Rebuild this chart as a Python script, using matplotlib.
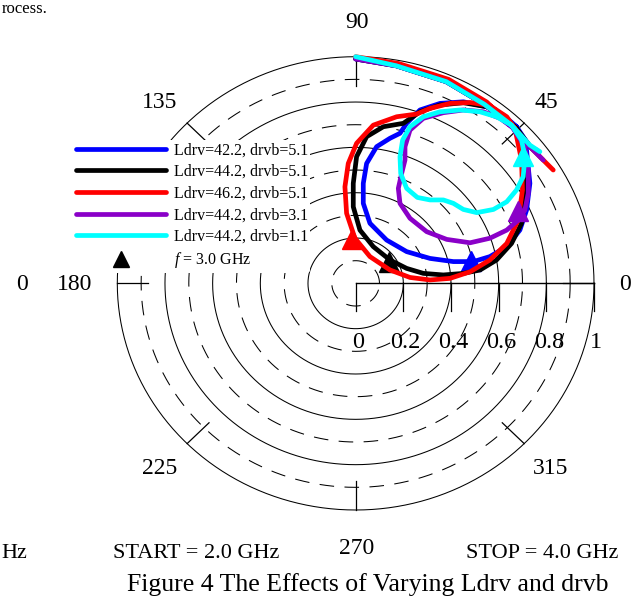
import numpy as np
import matplotlib.pyplot as plt
from matplotlib.lines import Line2D

plt.rcParams["font.family"] = ["Liberation Serif", "DejaVu Serif"]
plt.rcParams["mathtext.fontset"] = "custom"
plt.rcParams["mathtext.it"] = "Liberation Serif:italic"
plt.rcParams["mathtext.rm"] = "Liberation Serif"

# Reflection coefficient traces, 2.0 -> 4.0 GHz (real / imaginary parts)
labels = [
    "Ldrv=42.2, drvb=5.1",
    "Ldrv=44.2, drvb=5.1",
    "Ldrv=46.2, drvb=5.1",
    "Ldrv=44.2, drvb=3.1",
    "Ldrv=44.2, drvb=1.1",
]
colors = ["#0000ff", "#000000", "#ff0000", "#8a00c8", "#00ffff"]

blue_re = [0.00, 0.17, 0.38, 0.54, 0.675, 0.717, 0.731, 0.717, 0.689, 0.634, 0.563, 0.494, 0.410, 0.312, 0.214, 0.130,
           0.060, 0.032, 0.032, 0.046, 0.088, 0.144, 0.186, 0.214, 0.270, 0.354, 0.452, 0.550, 0.619, 0.675, 0.731, 0.759]
blue_im = [0.99, 0.96, 0.89, 0.79, 0.691, 0.588, 0.441, 0.323, 0.235, 0.162, 0.118, 0.096, 0.096, 0.110, 0.140, 0.191,
           0.265, 0.353, 0.441, 0.529, 0.603, 0.640, 0.662, 0.706, 0.765, 0.794, 0.801, 0.779, 0.743, 0.691, 0.603, 0.588]

black_re = [0.00, 0.17, 0.38, 0.54, 0.675, 0.710, 0.710, 0.696, 0.654, 0.591, 0.522, 0.452, 0.368, 0.284, 0.214, 0.144,
            0.074, 0.018, -0.010, -0.010, 0.004, 0.046, 0.116, 0.200, 0.270, 0.354, 0.452, 0.550, 0.619, 0.675, 0.738, 0.766]
black_im = [0.99, 0.96, 0.89, 0.79, 0.684, 0.544, 0.368, 0.265, 0.176, 0.103, 0.059, 0.044, 0.037, 0.044, 0.066, 0.103,
            0.162, 0.235, 0.338, 0.441, 0.559, 0.647, 0.691, 0.706, 0.757, 0.787, 0.797, 0.779, 0.735, 0.684, 0.596, 0.573]

red_re = [0.00, 0.18, 0.39, 0.55, 0.668, 0.696, 0.700, 0.682, 0.634, 0.563, 0.480, 0.396, 0.312, 0.228, 0.144, 0.060,
          -0.003, -0.038, -0.045, -0.031, 0.004, 0.074, 0.172, 0.256, 0.312, 0.396, 0.480, 0.563, 0.634, 0.668, 0.731,
          0.787, 0.829]
red_im = [1.00, 0.97, 0.90, 0.80, 0.684, 0.544, 0.412, 0.279, 0.176, 0.103, 0.051, 0.022, 0.015, 0.026, 0.059, 0.118,
          0.199, 0.309, 0.426, 0.529, 0.618, 0.698, 0.735, 0.747, 0.772, 0.794, 0.798, 0.784, 0.735, 0.684, 0.603,
          0.544, 0.500]

purple_re = [0.00, 0.17, 0.38, 0.54, 0.658, 0.710, 0.724, 0.724, 0.710, 0.682, 0.634, 0.563, 0.480, 0.382, 0.298, 0.228,
             0.186, 0.179, 0.193, 0.207, 0.207, 0.228, 0.284, 0.368, 0.452, 0.536, 0.606, 0.658, 0.745, 0.787]
purple_im = [0.99, 0.96, 0.89, 0.79, 0.688, 0.603, 0.500, 0.397, 0.323, 0.279, 0.235, 0.199, 0.179, 0.194, 0.228, 0.287,
             0.353, 0.419, 0.485, 0.544, 0.603, 0.676, 0.728, 0.753, 0.765, 0.757, 0.728, 0.688, 0.588, 0.544]

cyan_re = [0.00, 0.17, 0.38, 0.54, 0.654, 0.696, 0.710, 0.703, 0.675, 0.634, 0.578, 0.508, 0.452, 0.410, 0.368, 0.312,
           0.259, 0.214, 0.189, 0.186, 0.197, 0.228, 0.284, 0.354, 0.438, 0.521, 0.591, 0.654, 0.731, 0.773]
cyan_im = [1.00, 0.96, 0.89, 0.79, 0.698, 0.632, 0.559, 0.471, 0.412, 0.360, 0.326, 0.312, 0.326, 0.353, 0.368, 0.368,
           0.379, 0.419, 0.485, 0.559, 0.632, 0.691, 0.735, 0.757, 0.765, 0.757, 0.735, 0.698, 0.610, 0.581]

# f = 3.0 GHz points (blue, black, red, purple, cyan)
mark_re = [0.486, 0.142, -0.016, 0.680, 0.703]
mark_im = [0.100, 0.092, 0.196, 0.318, 0.560]

traces = [(blue_re, blue_im), (black_re, black_im), (red_re, red_im),
          (purple_re, purple_im), (cyan_re, cyan_im)]

fig = plt.figure(figsize=(6.35, 6.01), dpi=100)
ax = fig.add_axes([117.3 / 635, 91 / 601, 476.7 / 635, 453.3 / 601])
ax.set_xlim(-1, 1)
ax.set_ylim(-1, 1)
ax.axis("off")

# polar grid: solid every 0.2, dashed in between
t = np.linspace(0, 2 * np.pi, 721)
for k in range(1, 11):
    r = k / 10
    ls = "-" if k % 2 == 0 else (0, (14, 10))
    ax.plot(r * np.cos(t), r * np.sin(t), color="k", lw=0.75, ls=ls, clip_on=False)

# angular ticks every 45 deg
for a in np.deg2rad(np.arange(0, 360, 45)):
    ax.plot([0.87 * np.cos(a), np.cos(a)], [0.87 * np.sin(a), np.sin(a)],
            color="k", lw=0.9, clip_on=False)

# radial scale along 0 deg
ax.plot([0, 1], [0, 0], color="k", lw=1.0, clip_on=False)
for k in range(0, 11, 2):
    ax.plot([k / 10, k / 10], [0, -0.124], color="k", lw=0.9, clip_on=False)
    lab = "0" if k == 0 else ("1" if k == 10 else f"{k / 10:.1f}")
    ax.text(k / 10 + 0.01, -0.26, lab, ha="center", va="center", fontsize=17.5)

ang_labels = {"90": (0.005, 1.153), "45": (0.80, 0.80), "135": (-0.821, 0.80), "0": (1.13, -0.007),
              "180": (-1.18, -0.007), "225": (-0.821, -0.815), "315": (0.817, -0.815), "270": (0.005, -1.172)}
for s, (x, y) in ang_labels.items():
    ax.text(x, y, s, ha="center", va="center", fontsize=17)
ax.text(-1.399, -0.007, "0", ha="center", va="center", fontsize=17)

handles = []
for (re, im), c, lab, mx, my in zip(traces, colors, labels, mark_re, mark_im):
    (ln,) = ax.plot(re, im, color=c, lw=3.4, solid_joinstyle="round",
                    solid_capstyle="round", label=lab, clip_on=False)
    ax.plot([mx], [my], ls="none", marker="^", ms=14, color=c, clip_on=False)
    handles.append(ln)
handles.append(Line2D([], [], ls="none", marker="^", ms=12, color="k"))

leg = fig.legend(handles, labels + ["$f$ = 3.0 GHz"], loc="upper left",
                 bbox_to_anchor=(74 / 635, 1 - 140 / 601), frameon=True, fontsize=11.5,
                 handlelength=5.6, handletextpad=0.5, labelspacing=0.35,
                 borderpad=0.15, borderaxespad=0, framealpha=1)
leg.get_frame().set_facecolor("white")
leg.get_frame().set_edgecolor("none")

fig.text(2 / 635, 1 - 1 / 601, "rocess.", ha="left", va="top", fontsize=12)
fig.text(1 / 635, 1 - 553 / 601, "Hz", ha="left", va="center", fontsize=16)
fig.text(196 / 635, 1 - 553 / 601, "START = 2.0 GHz", ha="center", va="center", fontsize=16)
fig.text(542 / 635, 1 - 553 / 601, "STOP = 4.0 GHz", ha="center", va="center", fontsize=16)
fig.text(368 / 635, 1 - 585 / 601, "Figure 4 The Effects of Varying Ldrv and drvb",
         ha="center", va="center", fontsize=18.5)

fig.savefig("out.png", dpi=100)
